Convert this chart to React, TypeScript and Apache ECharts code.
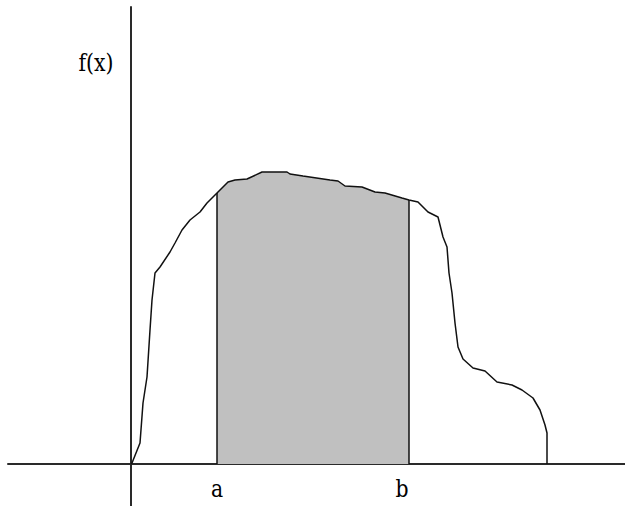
import React, { useEffect, useRef } from "react";
import * as echarts from "echarts";

// Curve f(x) (x to the right of the y axis, y above the x axis)
const curveX = [0, 1, 9, 12, 16, 19, 21, 24, 29, 39, 44, 51, 59, 69, 76, 86, 97, 104, 116, 131, 156, 159, 172, 199, 207, 214, 231, 244, 254, 271, 278, 287, 297, 307, 312, 316, 318, 321, 324, 327, 332, 342, 354, 366, 381, 391, 402, 409, 414, 416, 416];
const curveY = [0, 1, 21, 61, 87, 134, 164, 191, 197, 212, 221, 234, 244, 252, 261, 271, 282, 284, 285, 292, 292, 290, 288, 284, 283, 278, 277, 272, 271, 266, 264, 262, 252, 247, 227, 217, 191, 171, 141, 117, 105, 96, 93, 82, 79, 74, 66, 54, 39, 31, 0];

// Integration bounds a and b
const boundNames = ["a", "b"];
const boundX = [86, 278];
const boundLabelX = [86, 271];
const boundLabelY = [-24, -24];

// Axis label f(x)
const fLabel = "f(x)";
const fLabelPos = [-35, 402];

// Axis extents
const xMin = -123;
const xMax = 494;
const yMin = -42;
const yMax = 457;

const curve = curveX.map((x, i) => [x, curveY[i]]);
const yAt = (x: number) => curveY[curveX.indexOf(x)];
const shaded = curve.filter(([x], i) => x >= boundX[0] && x <= boundX[1] && i < curve.length - 1);

const FONT = "DejaVu Serif";

export default function App() {
  const ref = useRef<HTMLDivElement>(null);
  useEffect(() => {
    if (!ref.current) return;
    const chart = echarts.init(ref.current, undefined, { renderer: "svg" });
    const axisCommon = {
      type: "value" as const,
      axisLine: { show: true, onZero: true, lineStyle: { color: "#2a2a2a", width: 2 } },
      axisTick: { show: false },
      axisLabel: { show: false },
      splitLine: { show: false },
    };
    chart.setOption({
      animation: false,
      backgroundColor: "#ffffff",
      grid: { left: 8, right: 0, top: 7, bottom: 0, containLabel: false },
      xAxis: { ...axisCommon, min: xMin, max: xMax },
      yAxis: { ...axisCommon, min: yMin, max: yMax },
      series: [
        {
          type: "line",
          data: shaded,
          showSymbol: false,
          lineStyle: { width: 0 },
          areaStyle: { color: "#c0c0c0", opacity: 1, origin: 0 },
          z: 1,
        },
        ...boundX.map((x) => ({
          type: "line",
          data: [
            [x, 0],
            [x, yAt(x)],
          ],
          showSymbol: false,
          lineStyle: { color: "#111", width: 1.5 },
          z: 2,
        })),
        {
          type: "line",
          data: curve,
          showSymbol: false,
          lineStyle: { color: "#111", width: 1.5 },
          z: 3,
        },
      ],
    });
    const labels = [
      ...boundNames.map((n, i) => ({ text: n, pos: [boundLabelX[i], boundLabelY[i]] })),
      { text: fLabel, pos: fLabelPos },
    ];
    chart.setOption({
      graphic: labels.map((l) => {
        const [px, py] = chart.convertToPixel({ gridIndex: 0 }, l.pos) as number[];
        return {
          type: "text",
          x: px,
          y: py,
          scaleX: 1.2,
          scaleY: 1.45,
          style: {
            text: l.text,
            fill: "#000",
            font: `17px "${FONT}"`,
            align: "center",
            verticalAlign: "middle",
          },
          z: 10,
        };
      }),
    });
    return () => chart.dispose();
  }, []);
  return (
    <div
      ref={ref}
      style={{ position: "absolute", left: 0, top: 0, width: 625, height: 506, background: "#fff" }}
    />
  );
}
